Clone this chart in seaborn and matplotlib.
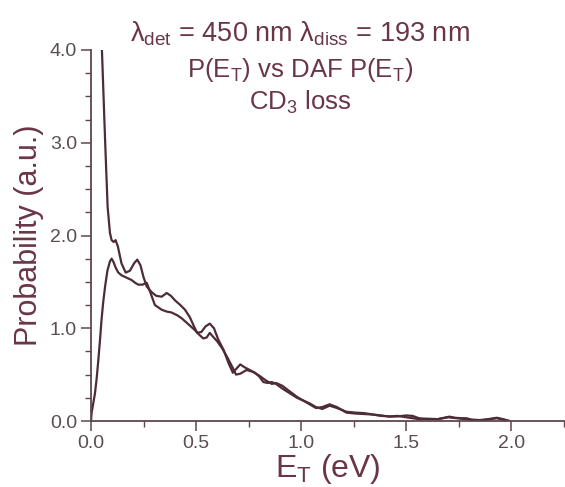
import matplotlib
matplotlib.use("Agg")
import matplotlib.pyplot as plt
import seaborn as sns
import pandas as pd
from matplotlib.ticker import MultipleLocator

# ---- data ----
et_daf = [0.048, 0.052, 0.067, 0.079, 0.09, 0.098, 0.108, 0.117, 0.128, 0.145, 0.165, 0.185,
          0.205, 0.22, 0.235, 0.25, 0.265, 0.288, 0.31, 0.336, 0.36, 0.38, 0.40, 0.425, 0.447,
          0.47, 0.49, 0.505, 0.525, 0.545, 0.565, 0.585, 0.605, 0.63, 0.655, 0.675, 0.69, 0.71,
          0.73, 0.755, 0.78, 0.80, 0.82, 0.84, 0.86, 0.88, 0.91, 0.945, 0.98, 1.01, 1.04, 1.07,
          1.10, 1.135, 1.17, 1.215, 1.26, 1.30, 1.34, 1.38, 1.42, 1.46, 1.50, 1.53, 1.56, 1.60,
          1.65, 1.68, 1.705, 1.73, 1.76, 1.785, 1.81, 1.85, 1.89, 1.93, 1.96, 1.99]
p_daf = [4.5, 4.0, 3.03, 2.31, 2.03, 1.95, 1.93, 1.95, 1.88, 1.70, 1.60, 1.62,
         1.70, 1.74, 1.68, 1.55, 1.45, 1.39, 1.35, 1.34, 1.38, 1.35, 1.30, 1.25, 1.20,
         1.12, 1.02, 0.95, 0.96, 1.02, 1.05, 1.00, 0.88, 0.77, 0.62, 0.52, 0.56, 0.61,
         0.58, 0.55, 0.52, 0.48, 0.42, 0.41, 0.42, 0.40, 0.35, 0.30, 0.25, 0.22, 0.18, 0.14,
         0.15, 0.18, 0.15, 0.09, 0.08, 0.075, 0.07, 0.06, 0.047, 0.05, 0.06, 0.055, 0.03, 0.02,
         0.02, 0.035, 0.047, 0.035, 0.03, 0.03, 0.015, 0.01, 0.02, 0.035, 0.02, 0.0]

et_pet = [0.0, 0.003, 0.01, 0.019, 0.027, 0.035, 0.043, 0.05, 0.058, 0.067, 0.078, 0.09,
          0.098, 0.106, 0.118, 0.13, 0.146, 0.165, 0.193, 0.21, 0.225, 0.245, 0.265, 0.28,
          0.304, 0.336, 0.36, 0.383, 0.41, 0.43, 0.46, 0.494, 0.515, 0.534, 0.55, 0.565, 0.58,
          0.60, 0.625, 0.65, 0.675, 0.69, 0.71, 0.74, 0.77, 0.80, 0.83, 0.86, 0.88, 0.91, 0.945,
          0.98, 1.01, 1.04, 1.07, 1.10, 1.135, 1.17, 1.215, 1.26, 1.30, 1.34, 1.38, 1.42, 1.46,
          1.50, 1.53, 1.56, 1.60, 1.65, 1.70, 1.74, 1.78, 1.82, 1.86, 1.90, 1.93, 1.96, 1.99]
p_pet = [0.0, 0.09, 0.18, 0.30, 0.46, 0.66, 0.88, 1.09, 1.28, 1.45, 1.62, 1.72,
         1.75, 1.72, 1.65, 1.60, 1.57, 1.55, 1.52, 1.49, 1.47, 1.47, 1.49, 1.40,
         1.25, 1.20, 1.18, 1.17, 1.14, 1.11, 1.05, 0.98, 0.93, 0.89, 0.90, 0.95, 0.91,
         0.86, 0.78, 0.68, 0.57, 0.50, 0.51, 0.55, 0.53, 0.49, 0.44, 0.40, 0.41, 0.38, 0.32,
         0.26, 0.22, 0.19, 0.15, 0.13, 0.165, 0.14, 0.10, 0.09, 0.085, 0.07, 0.055, 0.05, 0.055,
         0.04, 0.03, 0.02, 0.025, 0.02, 0.04, 0.03, 0.02, 0.01, 0.008, 0.02, 0.03, 0.015, 0.0]

x_ticks = [0.0, 0.5, 1.0, 1.5, 2.0]
x_ticklabels = ["0.0", "0.5", "1.0", "1.5", "2.0"]
y_ticks = [0.0, 1.0, 2.0, 3.0, 4.0]
y_ticklabels = ["0.0", "1.0", "2.0", "3.0", "4.0"]

title_lines = ["λ$_{det}$ = 450 nm λ$_{diss}$ = 193 nm",
               "P(E$_T$) vs DAF P(E$_T$)",
               "CD$_3$ loss"]
x_label = "E$_T$ (eV)"
y_label = "Probability (a.u.)"

# ---- style ----
sns.set_style("ticks")
plt.rcParams["font.family"] = ["Liberation Sans", "DejaVu Sans"]
plt.rcParams["mathtext.default"] = "regular"

line_col = "#4e2c36"
text_col = "#6a3646"
tick_col = "#5a4d53"
axis_col = "#5e4650"

W, H = 565, 487
fig = plt.figure(figsize=(W / 100, H / 100), dpi=100)
ax = fig.add_axes([91 / W, 1 - 421 / H, (W - 92) / W, (421 - 50) / H])

df_daf = pd.DataFrame({"et": et_daf, "p": p_daf})
df_pet = pd.DataFrame({"et": et_pet, "p": p_pet})
sns.lineplot(data=df_daf, x="et", y="p", ax=ax, color=line_col, lw=1.6, sort=False)
sns.lineplot(data=df_pet, x="et", y="p", ax=ax, color=line_col, lw=1.6, sort=False)

ax.set_xlim(0, 2.25)
ax.set_ylim(0, 4.0)
ax.set_xticks(x_ticks)
ax.set_xticklabels(x_ticklabels)
ax.set_yticks(y_ticks)
ax.set_yticklabels(y_ticklabels)
ax.xaxis.set_minor_locator(MultipleLocator(0.25))
ax.yaxis.set_minor_locator(MultipleLocator(0.25))
ax.tick_params(which="major", length=7, width=1.1, color=axis_col,
               labelsize=14, labelcolor=tick_col, pad=3)
ax.tick_params(which="minor", length=4, width=1.0, color=axis_col)

sns.despine(ax=ax)
for s in ["left", "bottom"]:
    ax.spines[s].set_color(axis_col)
    ax.spines[s].set_linewidth(1.3)

ax.set_xlabel(x_label, fontsize=23, color=text_col, labelpad=0)
ax.set_ylabel(y_label, fontsize=22, color=text_col, labelpad=4)

for txt, base, fs in zip(title_lines, [42, 77, 110], [19.5, 18.5, 18.5]):
    fig.text(300 / W, 1 - base / H, txt, ha="center", va="baseline",
             fontsize=fs, color=text_col)

fig.savefig("out.png", dpi=100)
